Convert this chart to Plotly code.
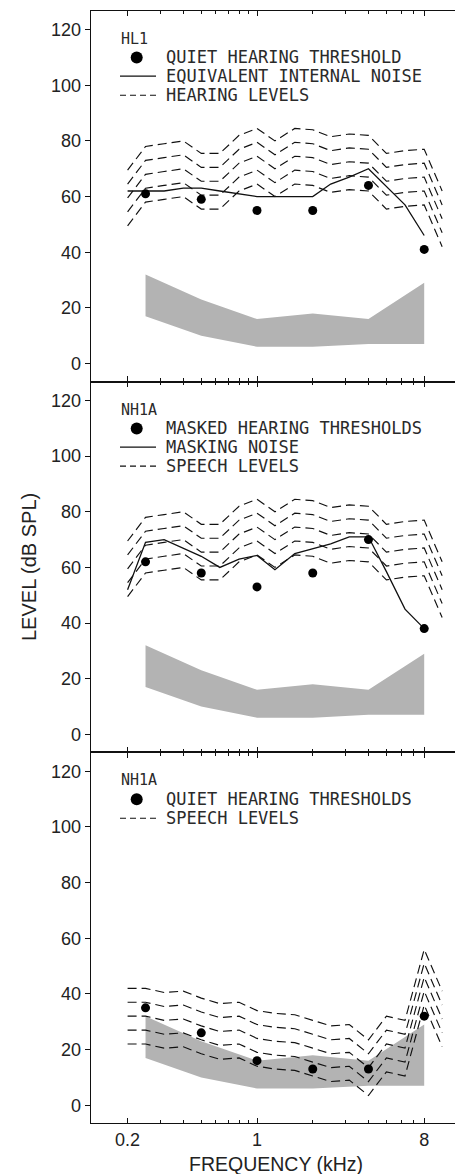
import plotly.graph_objects as go

# ---------------- data ----------------
FREQ_BAND = [0.2, 0.25, 0.315, 0.4, 0.5, 0.63, 0.8, 1, 1.25, 1.6, 2, 2.5, 3.15, 4, 5, 6.3, 8, 10]
FREQ_NOISE = [0.2, 0.25, 0.315, 0.4, 0.5, 0.63, 0.8, 1, 1.25, 1.6, 2, 2.5, 3.15, 4, 5, 6.3, 8]
FREQ_OCT = [0.25, 0.5, 1, 2, 4, 8]

# speech / hearing levels used in panels 1 and 2 (dB SPL)
LEVELS_A1 = [69.5, 78, 79, 80, 75.5, 75.5, 82, 84.5, 80, 84.5, 84, 81.5, 82.5, 82, 75.5, 76.5, 77, 62]
LEVELS_A2 = [64.5, 73, 74, 75, 70.5, 70.5, 77, 79.5, 75, 79.5, 79, 76.5, 77.5, 77, 70.5, 71.5, 72, 57]
LEVELS_A3 = [59.5, 68, 69, 70, 65.5, 65.5, 72, 74.5, 70, 74.5, 74, 71.5, 72.5, 72, 65.5, 66.5, 67, 52]
LEVELS_A4 = [54.5, 63, 64, 65, 60.5, 60.5, 67, 69.5, 65, 69.5, 69, 66.5, 67.5, 67, 60.5, 61.5, 62, 47]
LEVELS_A5 = [49.5, 58, 59, 60, 55.5, 55.5, 62, 64.5, 60, 64.5, 64, 61.5, 62.5, 62, 55.5, 56.5, 57, 42]

# speech levels in panel 3
LEVELS_B1 = [42, 42, 40.5, 41, 38.5, 36.5, 37, 34, 33, 32.5, 30.5, 28.5, 29, 23.5, 32, 30.5, 56, 41]
LEVELS_B2 = [37, 37, 35.5, 36, 33.5, 31.5, 32, 29, 28, 27.5, 25.5, 23.5, 24, 18.5, 27, 25.5, 51, 36]
LEVELS_B3 = [32, 32, 30.5, 31, 28.5, 26.5, 27, 24, 23, 22.5, 20.5, 18.5, 19, 13.5, 22, 20.5, 46, 31]
LEVELS_B4 = [27, 27, 25.5, 26, 23.5, 21.5, 22, 19, 18, 17.5, 15.5, 13.5, 14, 8.5, 17, 15.5, 41, 26]
LEVELS_B5 = [22, 22, 20.5, 21, 18.5, 16.5, 17, 14, 13, 12.5, 10.5, 8.5, 9, 3.5, 12, 10.5, 36, 21]

HL1_NOISE = [62, 62, 62, 63, 63, 62, 61, 60, 60, 60, 60, 64.5, 67, 70, 63.5, 57, 46]
HL1_QUIET = [61, 59, 55, 55, 64, 41]

NH1A_MASKING = [52, 69, 70, 67, 64, 60, 63, 64.3, 59.2, 65, 66.8, 68.5, 71, 71, 58.5, 45, 38]
NH1A_MASKED = [62, 58, 53, 58, 70, 38]

NH1A_QUIET = [35, 26, 16, 13, 13, 32]

BAND_UPPER = [32, 23, 16, 18, 16, 29]
BAND_LOWER = [17, 10, 6, 6, 7, 7]

X_MAJOR = [0.2, 1, 8]
X_MAJOR_TEXT = ["0.2", "1", "8"]
X_MINOR = [0.3, 0.4, 0.5, 0.6, 0.7, 0.8, 0.9, 2, 3, 4, 5, 6, 7]
Y_TICKS = [0, 20, 40, 60, 80, 100, 120]

PANELS = [
    dict(label="HL1", dots=HL1_QUIET, solid=HL1_NOISE,
         levels=[LEVELS_A1, LEVELS_A2, LEVELS_A3, LEVELS_A4, LEVELS_A5],
         legend=["QUIET HEARING THRESHOLD", "EQUIVALENT INTERNAL NOISE", "HEARING LEVELS"]),
    dict(label="NH1A", dots=NH1A_MASKED, solid=NH1A_MASKING,
         levels=[LEVELS_A1, LEVELS_A2, LEVELS_A3, LEVELS_A4, LEVELS_A5],
         legend=["MASKED HEARING THRESHOLDS", "MASKING NOISE", "SPEECH LEVELS"]),
    dict(label="NH1A", dots=NH1A_QUIET, solid=None,
         levels=[LEVELS_B1, LEVELS_B2, LEVELS_B3, LEVELS_B4, LEVELS_B5],
         legend=["QUIET HEARING THRESHOLDS", None, "SPEECH LEVELS"]),
]

# ---------------- layout geometry ----------------
W, H = 455, 1174
PLOT_L = 90.7
PANEL_TOP = [10.7, 381.6, 752.4]
PANEL_BOT = [381.6, 752.4, 1123.3]
X_RANGE = [-0.8982, 1.0694]
Y_RANGE = [-6.5, 126.8]

def px(x):
    return x / W

def py(y):
    return 1 - y / H

TICK_FONT = dict(family="Liberation Sans, Arial, sans-serif", size=18, color="#222")
LEG_FONT = dict(family="DejaVu Sans Mono, monospace", size=17, color="#2a2a2a")
LAB_FONT = dict(family="DejaVu Sans Mono, monospace", size=15, color="#2a2a2a")
TITLE_FONT_Y = dict(family="Liberation Sans, Arial, sans-serif", size=20, color="#222")
TITLE_FONT_X = dict(family="Liberation Sans, Arial, sans-serif", size=19.5, color="#222")

fig = go.Figure()
layout = dict(width=W, height=H, margin=dict(l=0, r=0, t=0, b=0),
              paper_bgcolor="white", plot_bgcolor="white", showlegend=False)
shapes = []
annotations = []

for i, p in enumerate(PANELS):
    n = i + 1
    xa = "x" if n == 1 else f"x{n}"
    ya = "y" if n == 1 else f"y{n}"
    # gray band
    fig.add_trace(go.Scatter(x=FREQ_OCT, y=BAND_LOWER, mode="lines", line=dict(width=0, color="#b3b3b3"),
                             xaxis=xa, yaxis=ya, hoverinfo="skip"))
    fig.add_trace(go.Scatter(x=FREQ_OCT, y=BAND_UPPER, mode="lines", line=dict(width=0, color="#b3b3b3"),
                             fill="tonexty", fillcolor="#b3b3b3", xaxis=xa, yaxis=ya, hoverinfo="skip"))
    # dashed levels
    for lv in p["levels"]:
        fig.add_trace(go.Scatter(x=FREQ_BAND, y=lv, mode="lines",
                                 line=dict(color="#111", width=1.15, dash="9px,5px"),
                                 xaxis=xa, yaxis=ya))
    if p["solid"] is not None:
        fig.add_trace(go.Scatter(x=FREQ_NOISE, y=p["solid"], mode="lines",
                                 line=dict(color="#111", width=1.3), xaxis=xa, yaxis=ya))
    fig.add_trace(go.Scatter(x=FREQ_OCT, y=p["dots"], mode="markers",
                             marker=dict(color="#000", size=9), xaxis=xa, yaxis=ya))

    xkey = "xaxis" if n == 1 else f"xaxis{n}"
    ykey = "yaxis" if n == 1 else f"yaxis{n}"
    layout[xkey] = dict(type="log", range=X_RANGE, domain=[px(PLOT_L), 1.0], anchor=ya,
                        tickmode="array", tickvals=X_MAJOR, ticktext=X_MAJOR_TEXT,
                        ticks="inside", ticklen=5, tickwidth=1.2, tickcolor="#111",
                        minor=dict(tickmode="array", tickvals=X_MINOR, ticks="inside", ticklen=3,
                                   tickwidth=1.2, tickcolor="#111", showgrid=False),
                        showticklabels=(n == 3), tickfont=TICK_FONT,
                        showline=True, linecolor="#111", linewidth=1.3, mirror="ticks",
                        showgrid=False, zeroline=False)
    layout[ykey] = dict(range=Y_RANGE, domain=[py(PANEL_BOT[i]), py(PANEL_TOP[i])], anchor=xa,
                        tickmode="array", tickvals=Y_TICKS, ticks="outside", ticklen=5,
                        tickwidth=1.2, tickcolor="#111", tickfont=TICK_FONT,
                        showline=True, linecolor="#111", linewidth=1.3,
                        showgrid=False, zeroline=False)

    # legend block
    top = PANEL_TOP[i]
    annotations.append(dict(text=p["label"], x=px(118.5), y=py(top + 28), xref="paper", yref="paper",
                            xanchor="left", yanchor="middle", showarrow=False, font=LAB_FONT))
    rows = [top + 46.8, top + 65.5, top + 84.5] if p["solid"] is not None else [top + 46.8, None, top + 65.8]
    # dot row
    cy = rows[0]
    shapes.append(dict(type="circle", xref="paper", yref="paper",
                       x0=px(136.7 - 6), x1=px(136.7 + 6), y0=py(cy + 6), y1=py(cy - 6),
                       fillcolor="#000", line=dict(width=0)))
    annotations.append(dict(text=p["legend"][0], x=px(163.5), y=py(cy), xref="paper", yref="paper",
                            xanchor="left", yanchor="middle", showarrow=False, font=LEG_FONT))
    if rows[1] is not None:
        shapes.append(dict(type="line", xref="paper", yref="paper", x0=px(120), x1=px(156),
                           y0=py(rows[1]), y1=py(rows[1]), line=dict(color="#111", width=1.3)))
        annotations.append(dict(text=p["legend"][1], x=px(163.5), y=py(rows[1]), xref="paper", yref="paper",
                                xanchor="left", yanchor="middle", showarrow=False, font=LEG_FONT))
    shapes.append(dict(type="line", xref="paper", yref="paper", x0=px(120), x1=px(156),
                       y0=py(rows[2]), y1=py(rows[2]), line=dict(color="#111", width=1.1, dash="6px,4px")))
    annotations.append(dict(text=p["legend"][2], x=px(163.5), y=py(rows[2]), xref="paper", yref="paper",
                            xanchor="left", yanchor="middle", showarrow=False, font=LEG_FONT))

# axis titles
annotations.append(dict(text="LEVEL (dB SPL)", x=px(28.5), y=py(567.5), xref="paper", yref="paper",
                        textangle=-90, xanchor="center", yanchor="middle", showarrow=False,
                        font=TITLE_FONT_Y))
annotations.append(dict(text="FREQUENCY (kHz)", x=px(276), y=py(1164), xref="paper", yref="paper",
                        xanchor="center", yanchor="middle", showarrow=False,
                        font=TITLE_FONT_X))

layout["shapes"] = shapes
layout["annotations"] = annotations
fig.update_layout(**layout)
fig.write_html("out.html")
